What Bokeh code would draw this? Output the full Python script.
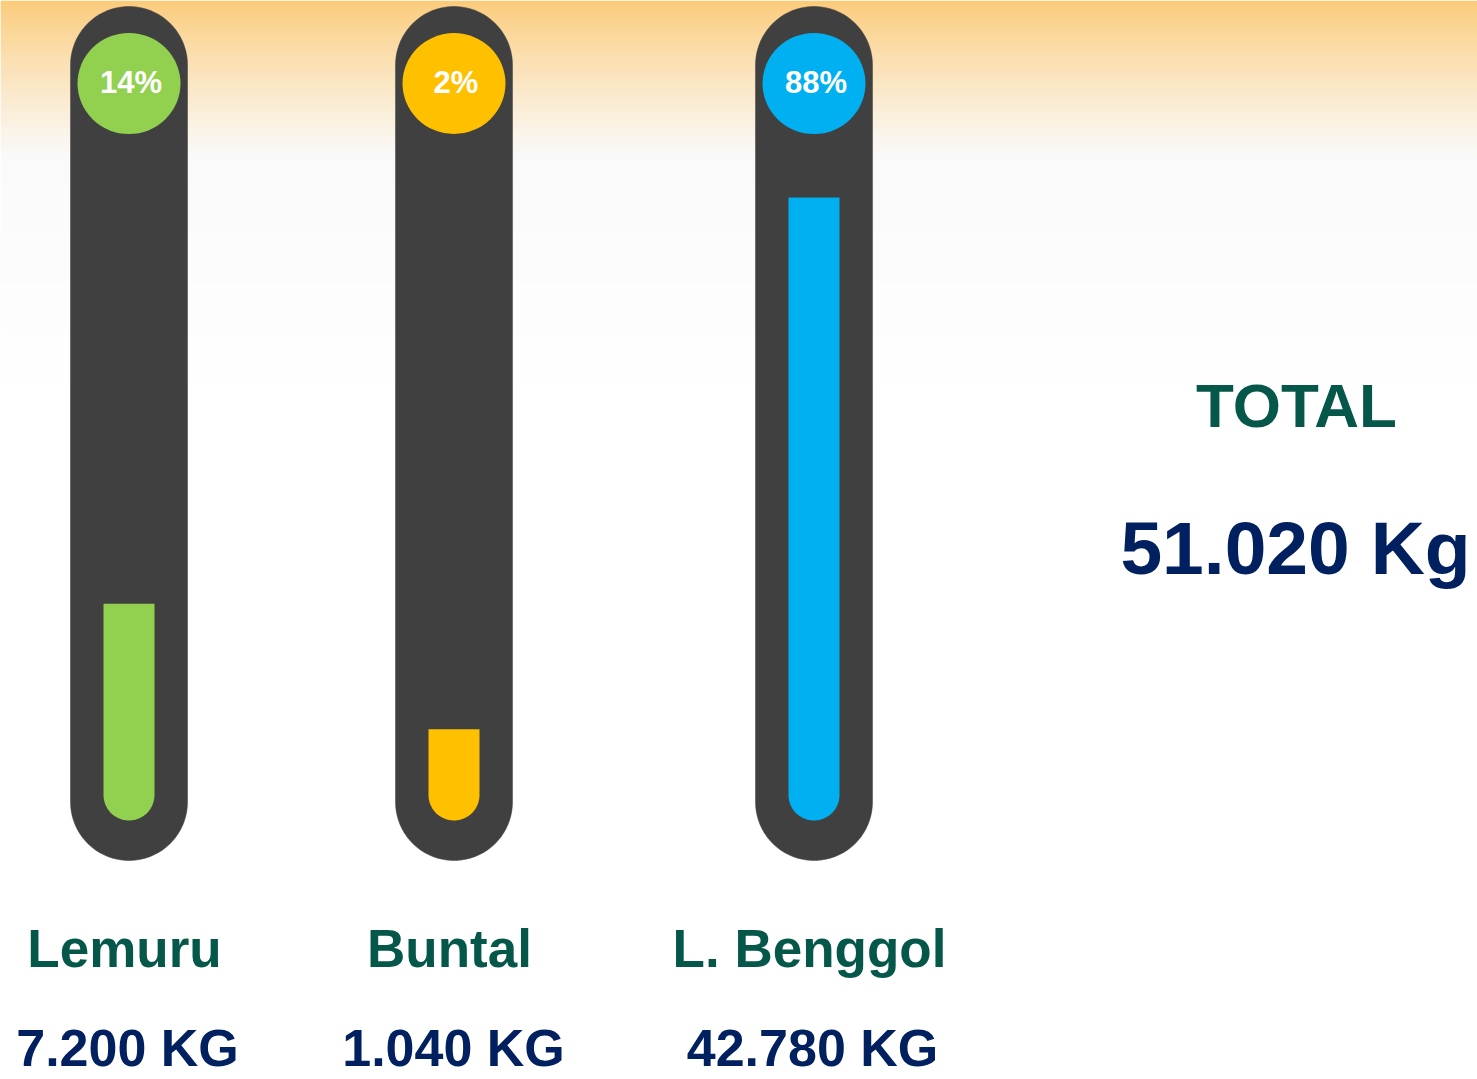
import numpy as np
from bokeh.plotting import figure
from bokeh.models import Range1d
from bokeh.core.properties import value
from bokeh.embed import file_html
from bokeh.resources import INLINE

# ---- data ----
categories = ["Lemuru", "Buntal", "L. Benggol"]
weights_kg = [7200, 1040, 42780]
pct_labels = [14, 2, 88]
fill_level = [30.6, 12.9, 88.0]   # bar fill height, % of tube scale
bar_colors = ["#92D050", "#FFC000", "#00B0F0"]

W, H = 1477, 1079
p = figure(width=W, height=H, output_backend="svg", toolbar_location=None,
           x_range=Range1d(0, W), y_range=Range1d(H, 0), min_border=0)
p.axis.visible = False
p.grid.visible = False
p.outline_line_color = None
p.background_fill_color = "#FFFFFF"
p.border_fill_color = "#FFFFFF"

# background gradient (orange top fading to white)
top = (251, 203, 122)
mid = (250, 250, 250)
bot = (255, 255, 255)
step = 4
ys, cols = [], []
for y in range(0, 400, step):
    if y <= 155:
        t = (y / 155) ** 0.85
        c = tuple(int(round(top[i] + (mid[i] - top[i]) * t)) for i in range(3))
    else:
        t = min(1.0, (y - 155) / 250)
        c = tuple(int(round(mid[i] + (bot[i] - mid[i]) * t)) for i in range(3))
    ys.append(y)
    cols.append("#%02x%02x%02x" % c)
p.quad(left=0, right=W, top=ys, bottom=[y + step + 0.5 for y in ys], fill_color=cols, line_color=None)


def capsule(cx, ytop, ybot, w, round_top=True):
    r = w / 2
    xs, yy = [], []
    if round_top:
        a = np.linspace(np.pi, 2 * np.pi, 40)
        xs += list(cx + r * np.cos(a)); yy += list(ytop + r + r * np.sin(a))
    else:
        xs += [cx - r, cx + r]; yy += [ytop, ytop]
    a = np.linspace(0, np.pi, 40)
    xs += list(cx + r * np.cos(a)); yy += list(ybot - r + r * np.sin(a))
    return xs, yy


# layout
centers = [128.5, 453.5, 813.5]
tube_top, tube_bot, tube_w = 6, 860, 117
inner_bot, inner_w = 820, 51
scale_top = 112  # y of 100% on tube scale
dark = "#404040"

for cx, lvl, col, pct in zip(centers, fill_level, bar_colors, pct_labels):
    xs, yy = capsule(cx, tube_top, tube_bot, tube_w)
    p.patch(xs, yy, fill_color=dark, line_color=dark, line_width=0.5)
    ytop = inner_bot - (inner_bot - scale_top) * lvl / 100
    xs, yy = capsule(cx, ytop, inner_bot, inner_w, round_top=False)
    p.patch(xs, yy, fill_color=col, line_color=None)
    p.ellipse(x=cx, y=83, width=103, height=101, fill_color=col, line_color=None)
    p.text(x=[cx + 2], y=[82], text=[f"{pct}%"], text_font=value("Liberation Sans"),
           text_font_style="bold", text_font_size="31px", text_color="white",
           text_align="center", text_baseline="middle")


def base(y, fs):
    return y - 0.37 * fs


label_x = [124, 449, 809]
num_x = [127, 453, 812]
p.text(x=label_x, y=[base(968, 53)] * 3, text=categories, text_font=value("Liberation Sans"),
       text_font_style="bold", text_font_size="53px", text_color="#05574A",
       text_align="center", text_baseline="alphabetic")
num_texts = [f"{w:,}".replace(",", ".") + " KG" for w in weights_kg]
p.text(x=num_x, y=[base(1067, 52)] * 3, text=num_texts, text_font=value("Liberation Sans"),
       text_font_style="bold", text_font_size="52px", text_color="#002060",
       text_align="center", text_baseline="alphabetic")

total = sum(weights_kg)
p.text(x=[1296], y=[base(428, 62)], text=["TOTAL"], text_font=value("Liberation Sans"),
       text_font_style="bold", text_font_size="62px", text_color="#05574A",
       text_align="center", text_baseline="alphabetic")
p.text(x=[1295], y=[base(575, 75)], text=[f"{total:,}".replace(",", ".") + " Kg"], text_font=value("Liberation Sans"),
       text_font_style="bold", text_font_size="75px", text_color="#002060",
       text_align="center", text_baseline="alphabetic")

open("out.html", "w").write(file_html(p, INLINE))
